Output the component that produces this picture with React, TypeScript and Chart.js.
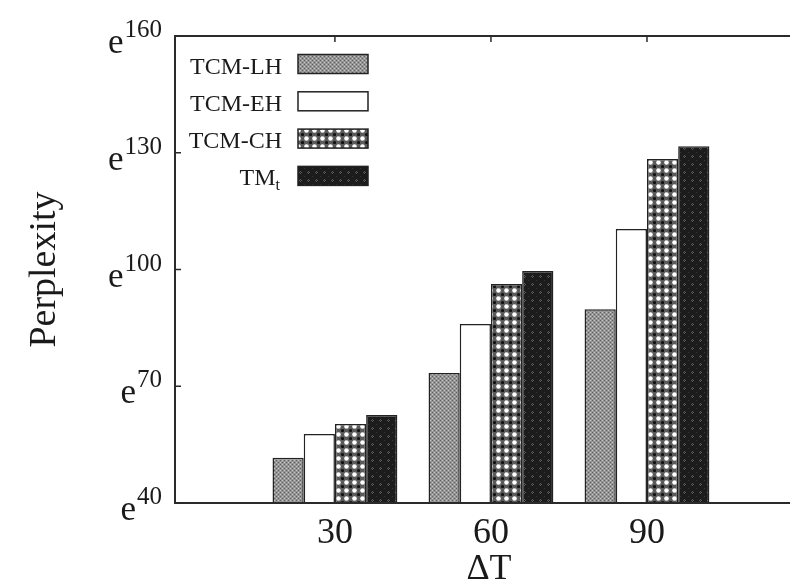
import { useEffect, useRef } from 'react';
import { Chart, registerables } from 'chart.js';

Chart.register(...registerables);

// ---- data ----
const categories = [30, 60, 90];
const seriesNames = ['TCM-LH', 'TCM-EH', 'TCM-CH', 'TM'];
const seriesSubscripts = ['', '', '', 't'];
const lhValues = [51.6, 73.4, 89.8];
const ehValues = [57.7, 86.0, 110.4];
const chValues = [60.3, 96.3, 128.4];
const tmValues = [62.6, 99.6, 131.7];
const yTicks = [40, 70, 100, 130, 160];
const xTicks = [30, 60, 90];
const xTitle = 'ΔT';
const yTitle = 'Perplexity';

const SERIF = '"Liberation Serif", "DejaVu Serif", serif';
const INK = '#1a1a1a';

function makePattern(kind: string): CanvasPattern | string {
  const c = document.createElement('canvas');
  const ctx = c.getContext('2d');
  if (!ctx) return '#888';
  if (kind === 'lh') {
    c.width = 4; c.height = 4;
    ctx.fillStyle = '#959595'; ctx.fillRect(0, 0, 4, 4);
    ctx.fillStyle = '#5e5e5e';
    ctx.fillRect(0, 0, 1, 1); ctx.fillRect(2, 2, 1, 1);
    ctx.fillStyle = '#c4c4c4';
    ctx.fillRect(2, 0, 1, 1); ctx.fillRect(0, 2, 1, 1);
  } else if (kind === 'eh') {
    return '#ffffff';
  } else if (kind === 'ch') {
    c.width = 8; c.height = 8;
    ctx.fillStyle = '#5a5a5a'; ctx.fillRect(0, 0, 8, 8);
    ctx.fillStyle = '#ffffff';
    ctx.beginPath(); ctx.arc(2.5, 2.5, 2.3, 0, Math.PI * 2); ctx.fill();
    ctx.fillStyle = '#111111';
    ctx.beginPath(); ctx.arc(6.5, 6.5, 1.6, 0, Math.PI * 2); ctx.fill();
  } else {
    c.width = 8; c.height = 8;
    ctx.fillStyle = '#1c1c1c'; ctx.fillRect(0, 0, 8, 8);
    ctx.fillStyle = '#5c5c5c';
    ctx.fillRect(4, 3, 1, 1); ctx.fillRect(3, 4, 1, 1);
    ctx.fillRect(5, 4, 1, 1); ctx.fillRect(4, 5, 1, 1);
    ctx.fillStyle = '#3a3a3a';
    ctx.fillRect(0, 0, 1, 1);
  }
  const p = ctx.createPattern(c, 'repeat');
  return p || '#888';
}

const framePlugin = {
  id: 'frameAndText',
  afterDatasetsDraw(chart: any) {
    const ctx: CanvasRenderingContext2D = chart.ctx;
    const { left, right, top, bottom } = chart.chartArea;
    const xs = chart.scales.x;
    const ys = chart.scales.y;
    const fills: any[] = chart.data.datasets.map((d: any) => d.backgroundColor);
    ctx.save();
    // frame
    ctx.strokeStyle = '#2a2a2a';
    ctx.lineWidth = 2;
    ctx.beginPath();
    ctx.moveTo(right + 5, top);
    ctx.lineTo(left, top);
    ctx.lineTo(left, bottom);
    ctx.lineTo(right + 5, bottom);
    ctx.stroke();
    // inward ticks
    ctx.lineWidth = 1.5;
    ctx.beginPath();
    xTicks.forEach((v) => {
      const px = xs.getPixelForValue(v);
      ctx.moveTo(px, top); ctx.lineTo(px, top + 6);
      ctx.moveTo(px, bottom); ctx.lineTo(px, bottom - 6);
    });
    yTicks.forEach((v) => {
      const py = ys.getPixelForValue(v);
      ctx.moveTo(left, py); ctx.lineTo(left + 6, py);
    });
    ctx.stroke();

    ctx.fillStyle = INK;
    // x tick labels
    ctx.textAlign = 'center';
    ctx.textBaseline = 'alphabetic';
    ctx.font = `36px ${SERIF}`;
    xTicks.forEach((v) => {
      ctx.fillText(String(v), xs.getPixelForValue(v), bottom + 40);
    });
    // x title
    ctx.fillText(xTitle, (left + right) / 2, bottom + 76);

    // y tick labels e^N
    yTicks.forEach((v) => {
      const py = ys.getPixelForValue(v);
      const rx = left - 13;
      ctx.textAlign = 'right';
      ctx.font = `25px ${SERIF}`;
      const exp = String(v);
      const w = ctx.measureText(exp).width;
      ctx.fillText(exp, rx, py + 1);
      ctx.font = `35px ${SERIF}`;
      ctx.fillText('e', rx - w - 1, py + 17);
    });

    // y title
    ctx.save();
    ctx.translate(55, (top + bottom) / 2);
    ctx.rotate(-Math.PI / 2);
    ctx.textAlign = 'center';
    ctx.font = `38px ${SERIF}`;
    ctx.fillText(yTitle, 0, 0);
    ctx.restore();

    // legend
    const textRight = left + 107;
    const boxLeft = left + 123;
    const boxW = 70;
    const boxH = 19;
    seriesNames.forEach((name, i) => {
      const base = top + 37.5 + i * 37.3;
      ctx.textAlign = 'right';
      ctx.fillStyle = INK;
      const sub = seriesSubscripts[i];
      if (sub) {
        ctx.font = `16px ${SERIF}`;
        const sw = ctx.measureText(sub).width;
        ctx.textAlign = 'left';
        ctx.fillText(sub, textRight - sw - 2, base + 5);
        ctx.textAlign = 'right';
        ctx.font = `24px ${SERIF}`;
        ctx.fillText(name, textRight - sw - 2, base);
      } else {
        ctx.font = `24px ${SERIF}`;
        ctx.fillText(name, textRight, base);
      }
      ctx.fillStyle = fills[i];
      ctx.fillRect(boxLeft, base - boxH, boxW, boxH);
      ctx.strokeStyle = '#222';
      ctx.lineWidth = 1.5;
      ctx.strokeRect(boxLeft, base - boxH, boxW, boxH);
    });
    ctx.restore();
  },
};

export default function App() {
  const ref = useRef<HTMLCanvasElement | null>(null);
  useEffect(() => {
    document.body.style.margin = '0';
    document.body.style.overflow = 'hidden';
    const canvas = ref.current;
    if (!canvas) return;
    const fills = [makePattern('lh'), makePattern('eh'), makePattern('ch'), makePattern('tm')];
    const valueSets = [lhValues, ehValues, chValues, tmValues];
    const chart = new Chart(canvas, {
      type: 'bar',
      data: {
        datasets: seriesNames.map((name, i) => ({
          label: name + seriesSubscripts[i],
          data: categories.map((c, j) => ({ x: c, y: valueSets[i][j] })),
          backgroundColor: fills[i] as any,
          borderColor: '#222222',
          borderWidth: 1.5,
          categoryPercentage: 0.8,
          barPercentage: 1.0,
        })),
      },
      options: {
        animation: false,
        responsive: false,
        events: [],
        layout: { padding: { left: 175, top: 36, right: 7, bottom: 81 } },
        plugins: { legend: { display: false }, tooltip: { enabled: false } },
        scales: {
          x: {
            type: 'linear',
            display: false,
            offset: false,
            min: -0.75,
            max: 120,
            afterBuildTicks: (s: any) => { s.ticks = xTicks.map((v) => ({ value: v })); },
          },
          y: {
            type: 'linear',
            display: false,
            min: 40,
            max: 160,
            afterBuildTicks: (s: any) => { s.ticks = yTicks.map((v) => ({ value: v })); },
          },
        },
      },
      plugins: [framePlugin],
    });
    return () => chart.destroy();
  }, []);
  return (
    <div style={{ position: 'fixed', left: 0, top: 0, width: 790, height: 584, overflow: 'hidden', background: '#fff' }}>
      <canvas ref={ref} width={810} height={584} style={{ display: 'block' }} />
    </div>
  );
}
